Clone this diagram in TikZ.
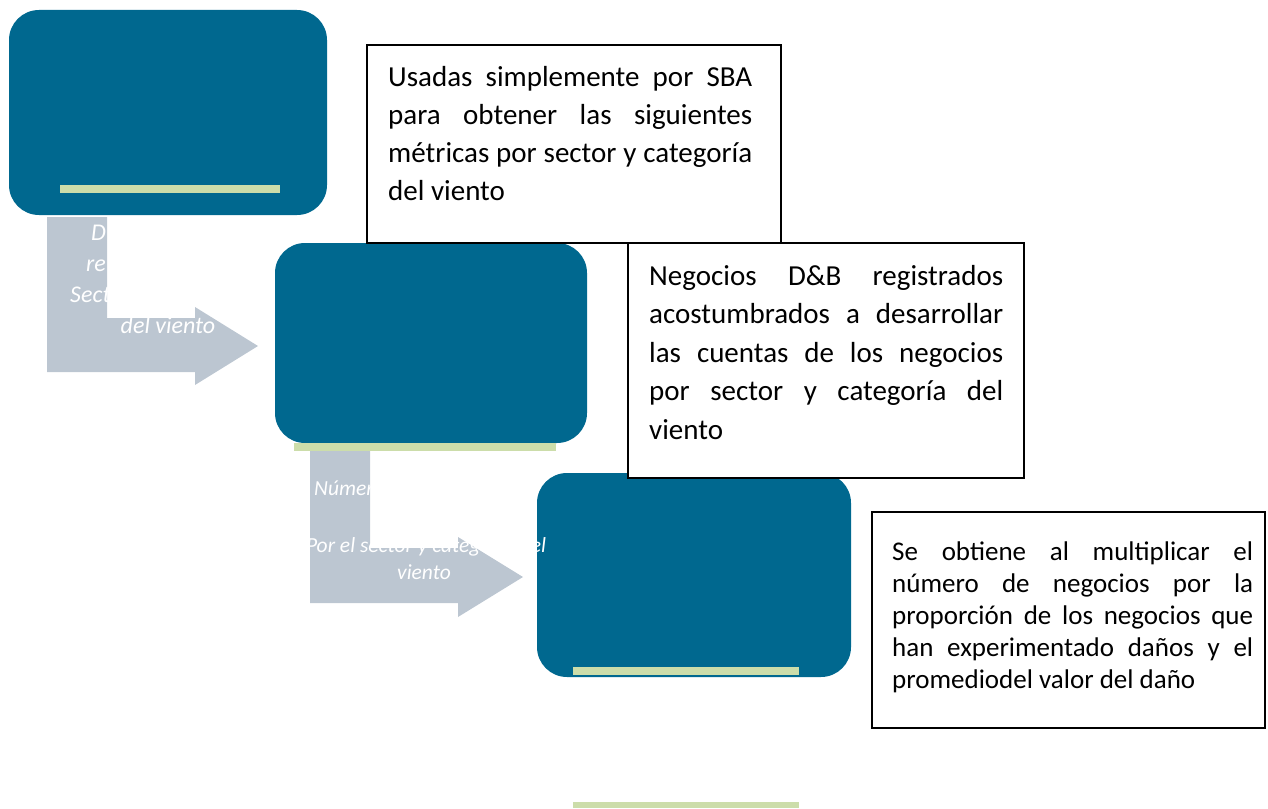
\documentclass[tikz,border=0pt]{standalone}
\usepackage{fontspec}
\setmainfont{Carlito}
\hyphenpenalty=10000
\exhyphenpenalty=10000
\tolerance=9999
\emergencystretch=20pt
\definecolor{boxblue}{RGB}{0,104,143}
\definecolor{bargreen}{RGB}{204,221,170}
\definecolor{arrowgrey}{RGB}{188,198,209}
\begin{document}
\begin{tikzpicture}[x=1pt,y=-1pt,
  bluebox/.style={fill=boxblue, draw=none, rounded corners=30pt, inner sep=0pt, outer sep=0pt, anchor=north west},
  greenbar/.style={fill=bargreen, draw=none, inner sep=0pt, outer sep=0pt, anchor=north west},
  lshape/.style={fill=arrowgrey, draw=none},
  tbox/.style={fill=white, draw=black, line width=1.5pt, inner sep=0pt, outer sep=0pt, anchor=north west},
  ttext/.style={inner sep=0pt, anchor=base west, align=justify},
  atext/.style={inner sep=0pt, text=white, font=\fontsize{24}{30}\selectfont\itshape},
  btext/.style={inner sep=0pt, text=white, font=\fontsize{21.5}{27}\selectfont\itshape}
]
\useasboundingbox (0,0) rectangle (1268,808);

% grey L-shaped block arrows
\fill[lshape] (47,217) -- (107,217) -- (107,318) -- (195,318) -- (195,307) -- (258,346) -- (195,385) -- (195,372) -- (47,372) -- cycle;
\fill[lshape] (310,451) -- (370,451) -- (370,548) -- (458,548) -- (458,537) -- (523,577) -- (458,617) -- (458,603) -- (310,603) -- cycle;

% blue rounded boxes
\node[bluebox, minimum width=318pt, minimum height=205pt] (blue1) at (9,10) {};
\node[bluebox, minimum width=312pt, minimum height=200pt] (blue2) at (275,243) {};
\node[bluebox, minimum width=314pt, minimum height=204pt] (blue3) at (537,473) {};

% green bars
\node[greenbar, minimum width=220pt, minimum height=8pt] (bar1) at (60,185) {};
\node[greenbar, minimum width=262pt, minimum height=8pt] (bar2) at (294,443) {};
\node[greenbar, minimum width=226pt, minimum height=8pt] (bar3) at (573,667) {};
\node[greenbar, minimum width=226pt, minimum height=6pt] (bar4) at (573,802) {};

% text boxes
\node[tbox, minimum width=414pt, minimum height=198pt] (tb1) at (367,45) {};
\node[ttext, text width=364pt, font=\fontsize{29}{38}\selectfont] (tb1text) at (388,86)
  {Usadas simplemente por SBA para obtener las siguientes métricas por sector y categoría del viento};

\node[tbox, minimum width=396pt, minimum height=235pt] (tb2) at (628,243) {};
\node[ttext, text width=354pt, font=\fontsize{29}{38.5}\selectfont] (tb2text) at (649,285)
  {Negocios D\&B registrados acostumbrados a desarrollar las cuentas de los negocios\linebreak{} por sector y categoría del\linebreak{} viento};

\node[tbox, minimum width=393pt, minimum height=216pt] (tb3) at (872,512) {};
\node[ttext, text width=361pt, font=\fontsize{27}{32}\selectfont] (tb3text) at (892,560)
  {Se obtiene al multiplicar el número de negocios por la proporción de los negocios que han experimentado daños y el promediodel valor del daño};

% white italic labels on the arrows
\node[atext, anchor=base west] (a1l1) at (91,240) {D};
\node[atext, anchor=base west] (a1l2) at (86,271) {re};
\node[atext, anchor=base west] (a1l3) at (70,302) {Sect};
\node[atext, anchor=base] (a1l4) at (168,333) {del viento};

\node[btext, anchor=base west] (a2l1) at (314,495) {Númer};
\node[btext, anchor=base] (a2l2) at (426,552) {Por el sector y categoría del};
\node[btext, anchor=base] (a2l3) at (424,579) {viento};
\end{tikzpicture}
\end{document}
